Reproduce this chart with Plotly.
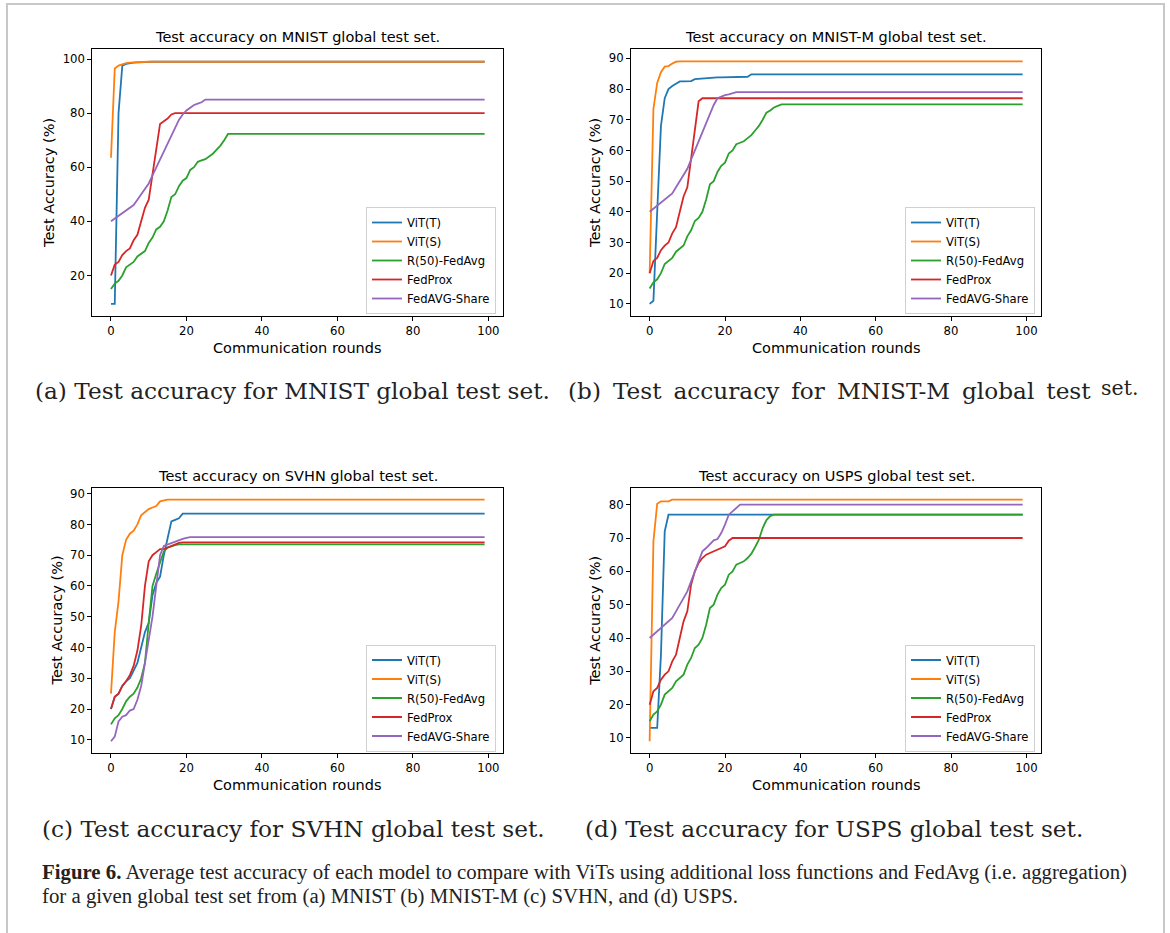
import plotly.graph_objects as go

W, H = 1170, 933
N_ROUNDS = 100
rounds = list(range(N_ROUNDS))

series_names = ["ViT(T)", "ViT(S)", "R(50)-FedAvg", "FedProx", "FedAVG-Share"]
series_colors = ["#1f77b4", "#ff7f0e", "#2ca02c", "#d62728", "#9467bd"]

# ---- values (rounds 0..k); each curve then stays flat at its last value ----
# (a) MNIST
mnist_vit_t = [9.5, 9.5, 80.0, 97.5, 98.2, 98.5, 98.7, 98.8, 98.9, 99.0]
mnist_vit_s = [63.5, 96.5, 97.6, 98.2, 98.5, 98.7, 98.8, 98.9, 99.0]
mnist_r50 = [15, 17, 18, 20, 23, 24, 25, 27, 28, 29, 32, 34, 37, 38, 40, 44, 49, 50, 53, 55,
             56, 59, 60, 62, 62.5, 63, 64, 65, 66.5, 68, 70, 72.3]
mnist_fedprox = [20, 24, 25, 27.5, 29, 30, 33, 35, 40, 45, 48, 57, 66, 76, 77, 78, 79.5, 80]
mnist_share = [40, 41, 42, 43, 44, 45, 46, 48, 50, 52, 54, 57, 60, 63, 66, 69, 72, 75, 77.5, 79.5,
               81, 82, 83, 83.5, 84, 85]

# (b) MNIST-M
mnistm_vit_t = [10, 11, 40, 68, 77, 80, 81, 81.8, 82.5, 82.5, 82.5, 82.6, 83.2, 83.3, 83.6, 83.7,
                83.8, 83.8, 83.8, 83.8, 83.8, 83.8, 83.9, 84, 84, 84, 84, 84.8]
mnistm_vit_s = [20, 73.5, 82, 85.5, 87.3, 87.5, 88.3, 88.9, 89]
mnistm_r50 = [15, 17, 18, 20, 23, 24, 25, 27, 28, 29, 32, 34, 37, 38, 40, 44, 49, 50, 53, 55,
              56, 59, 60, 62, 62.5, 63, 64, 65, 66.5, 68, 70, 72.3, 73, 74, 74.5, 75]
mnistm_fedprox = [20, 24, 25, 27.5, 29, 30, 33, 35, 40, 45, 48, 57, 66, 76, 77]
mnistm_share = [40, 41, 42, 43, 44, 45, 46, 48, 50, 52, 54, 57, 60, 63, 66, 69, 72, 74.8, 77,
                77.6, 78, 78.3, 78.6, 79]

# (c) SVHN
svhn_vit_t = [20, 24, 25, 27.5, 29, 30, 32.5, 35, 40, 45, 48, 57, 61, 63, 70, 76, 81, 81.5, 82, 83.5]
svhn_vit_s = [25, 45, 55, 70, 75, 77, 78, 80, 83, 84, 85, 85.5, 86, 87.5, 87.8, 88.1]
svhn_r50 = [15, 17, 18, 20, 22.5, 24, 25, 27, 30, 35, 48, 60, 64, 68, 71.2, 72.5, 73, 73.3, 73.5]
svhn_fedprox = [20, 24, 25, 27.5, 29, 31, 34, 39, 47, 60, 68, 70, 71, 72, 72, 72.5, 73, 73.5, 74, 74.2]
svhn_share = [9.5, 11, 16, 17.5, 18, 19.5, 20, 23, 27.5, 35, 43, 50, 60, 70, 73, 73.5, 74, 74.5,
              75, 75.3, 75.6, 75.9]

# (d) USPS
usps_vit_t = [13, 13, 13, 35, 72, 77]
usps_vit_s = [9, 69, 80.3, 81, 81, 81, 81.5]
usps_r50 = [15, 17, 18, 20, 23, 24, 25, 27, 28, 29, 32, 34, 37, 38, 40, 44, 49, 50, 53, 55,
            56, 59, 60, 62, 62.5, 63, 64, 65.3, 67.3, 69.5, 73, 75.4, 76.6, 77]
usps_fedprox = [20, 24, 25, 27.5, 29, 30, 33, 35, 40, 45, 48, 56, 60, 62.5, 64, 65, 65.5, 66,
                66.5, 67, 67.5, 69.2, 70]
usps_share = [40, 41, 42, 43, 44, 45, 46, 48, 50, 52, 54, 57, 60, 63, 66, 67, 68, 69.3, 69.7,
              71.5, 74, 77, 78, 79, 80]

panel_titles = ["Test accuracy on MNIST global test set.",
                "Test accuracy on MNIST-M global test set.",
                "Test accuracy on SVHN global test set.",
                "Test accuracy on USPS global test set."]
panel_data = [
    [mnist_vit_t, mnist_vit_s, mnist_r50, mnist_fedprox, mnist_share],
    [mnistm_vit_t, mnistm_vit_s, mnistm_r50, mnistm_fedprox, mnistm_share],
    [svhn_vit_t, svhn_vit_s, svhn_r50, svhn_fedprox, svhn_share],
    [usps_vit_t, usps_vit_s, usps_r50, usps_fedprox, usps_share],
]
x_ticks = [0, 20, 40, 60, 80, 100]
y_ticks = [[20, 40, 60, 80, 100],
           [10, 20, 30, 40, 50, 60, 70, 80, 90],
           [10, 20, 30, 40, 50, 60, 70, 80, 90],
           [10, 20, 30, 40, 50, 60, 70, 80]]
y_ranges = [[5.0, 103.6], [6.05, 92.95], [5.6, 91.95], [5.4, 85.1]]
x_range = [-4.95, 103.95]

sub_captions = ["(a) Test accuracy for MNIST global test set.",
                "(c) Test accuracy for SVHN global test set.",
                "(d) Test accuracy for USPS global test set."]
caption_b_words = ["(b)", "Test", "accuracy", "for", "MNIST-M", "global", "test"]
caption_b_tail = "set."
fig_caption_1 = ("<b>Figure 6.</b> Average test accuracy of each model to compare with ViTs using "
                 "additional loss functions and FedAvg (i.e. aggregation)")
fig_caption_2 = "for a given global test set from (a) MNIST (b) MNIST-M (c) SVHN, and (d) USPS."


def hold(values):
    """Keep the curve at its last read value for the remaining rounds (flat plateau)."""
    return list(values) + [values[-1]] * (N_ROUNDS - len(values))


# ---- layout geometry (pixels) ----
boxes = [  # left, right, top, bottom
    (92.3, 503.3, 49.3, 316.0),
    (631.0, 1041.3, 49.3, 316.0),
    (92.3, 503.3, 487.7, 753.3),
    (631.0, 1041.3, 487.7, 753.3),
]
ylabel_x = [48.3, 594.3, 56.0, 594.3]
legend_pos = [(496.0, 314.0), (1035.0, 314.0), (496.0, 751.5), (1035.0, 751.5)]

SANS = "DejaVu Sans"
CAPSERIF = "DejaVu Serif"
SERIF = "Liberation Serif"

fig = go.Figure()
layout = dict(
    width=W, height=H, margin=dict(l=0, r=0, t=0, b=0),
    paper_bgcolor="white", plot_bgcolor="white",
    font=dict(family=SANS, color="black", size=12),
    annotations=[], shapes=[],
)

for i in range(4):
    l, r, t, b = boxes[i]
    xa = "xaxis" if i == 0 else f"xaxis{i+1}"
    ya = "yaxis" if i == 0 else f"yaxis{i+1}"
    xref = "x" if i == 0 else f"x{i+1}"
    yref = "y" if i == 0 else f"y{i+1}"
    leg = "legend" if i == 0 else f"legend{i+1}"
    common = dict(showline=True, mirror=True, linecolor="black", linewidth=1,
                  ticks="outside", ticklen=4, tickwidth=1, tickcolor="black",
                  showgrid=False, zeroline=False,
                  tickfont=dict(family=SANS, size=11.7, color="black"))
    layout[xa] = dict(domain=[l / W, r / W], anchor=yref, range=x_range,
                      tickvals=x_ticks, **common)
    layout[ya] = dict(domain=[1 - b / H, 1 - t / H], anchor=xref, range=y_ranges[i],
                      tickvals=y_ticks[i], **common)
    for name, color, vals in zip(series_names, series_colors, panel_data[i]):
        fig.add_trace(go.Scatter(x=rounds, y=hold(vals), mode="lines", name=name,
                                 line=dict(color=color, width=1.8),
                                 xaxis=xref, yaxis=yref, legend=leg))
    lx, ly = legend_pos[i]
    layout[leg] = dict(x=lx / W, y=1 - ly / H, xanchor="right", yanchor="bottom",
                       bgcolor="rgba(255,255,255,0.8)", bordercolor="#d0d0d0", borderwidth=1,
                       font=dict(family=SANS, size=11.6, color="black"),
                       tracegroupgap=0, itemwidth=30)
    cx = (l + r) / 2
    layout["annotations"].append(dict(text=panel_titles[i], x=cx / W, y=1 - (t - 12) / H,
                                      xref="paper", yref="paper", showarrow=False,
                                      xanchor="center", yanchor="middle",
                                      font=dict(family=SANS, size=14.5)))
    layout["annotations"].append(dict(text="Communication rounds", x=cx / W, y=1 - (b + 32) / H,
                                      xref="paper", yref="paper", showarrow=False,
                                      xanchor="center", yanchor="middle",
                                      font=dict(family=SANS, size=14.5)))
    layout["annotations"].append(dict(text="Test Accuracy (%)", x=ylabel_x[i] / W,
                                      y=1 - ((t + b) / 2) / H, xref="paper", yref="paper",
                                      showarrow=False, textangle=-90,
                                      xanchor="center", yanchor="middle",
                                      font=dict(family=SANS, size=14.5)))

# sub-figure captions
cap_font = dict(family=CAPSERIF, size=23.2, color="#222222")
layout["annotations"].append(dict(text=sub_captions[0], x=33 / W, y=1 - 390 / H, xref="paper",
                                  yref="paper", showarrow=False, xanchor="left",
                                  yanchor="middle", font=cap_font))
layout["annotations"].append(dict(text=" \u2009".join(caption_b_words), x=566 / W,
                                  y=1 - 390 / H, xref="paper", yref="paper", showarrow=False,
                                  xanchor="left", yanchor="middle", font=cap_font))
layout["annotations"].append(dict(text=caption_b_tail, x=1140 / W, y=1 - 388 / H, xref="paper",
                                  yref="paper", showarrow=False, xanchor="right",
                                  yanchor="middle", font=dict(family=CAPSERIF, size=20.5, color="#222222")))
layout["annotations"].append(dict(text=sub_captions[1], x=40 / W, y=1 - 828 / H, xref="paper",
                                  yref="paper", showarrow=False, xanchor="left",
                                  yanchor="middle", font=cap_font))
layout["annotations"].append(dict(text=sub_captions[2], x=583 / W, y=1 - 828 / H, xref="paper",
                                  yref="paper", showarrow=False, xanchor="left",
                                  yanchor="middle", font=cap_font))

# figure caption
fc_font = dict(family=SERIF, size=20.8, color="#222222")
layout["annotations"].append(dict(text=fig_caption_1, x=40 / W, y=1 - 872 / H, xref="paper",
                                  yref="paper", showarrow=False, xanchor="left",
                                  yanchor="middle", font=fc_font))
layout["annotations"].append(dict(text=fig_caption_2, x=40 / W, y=1 - 896 / H, xref="paper",
                                  yref="paper", showarrow=False, xanchor="left",
                                  yanchor="middle", font=fc_font))

# page frame
layout["shapes"].append(dict(type="rect", xref="paper", yref="paper",
                             x0=7 / W, x1=1164 / W, y0=-0.05, y1=1 - 4 / H,
                             line=dict(color="#c8c8c8", width=2), fillcolor="rgba(0,0,0,0)",
                             layer="below"))

fig.update_layout(**layout)
fig.write_html("out.html", config={"displayModeBar": False},
               post_script="document.body.style.margin='0px';document.body.style.overflow='hidden';")
